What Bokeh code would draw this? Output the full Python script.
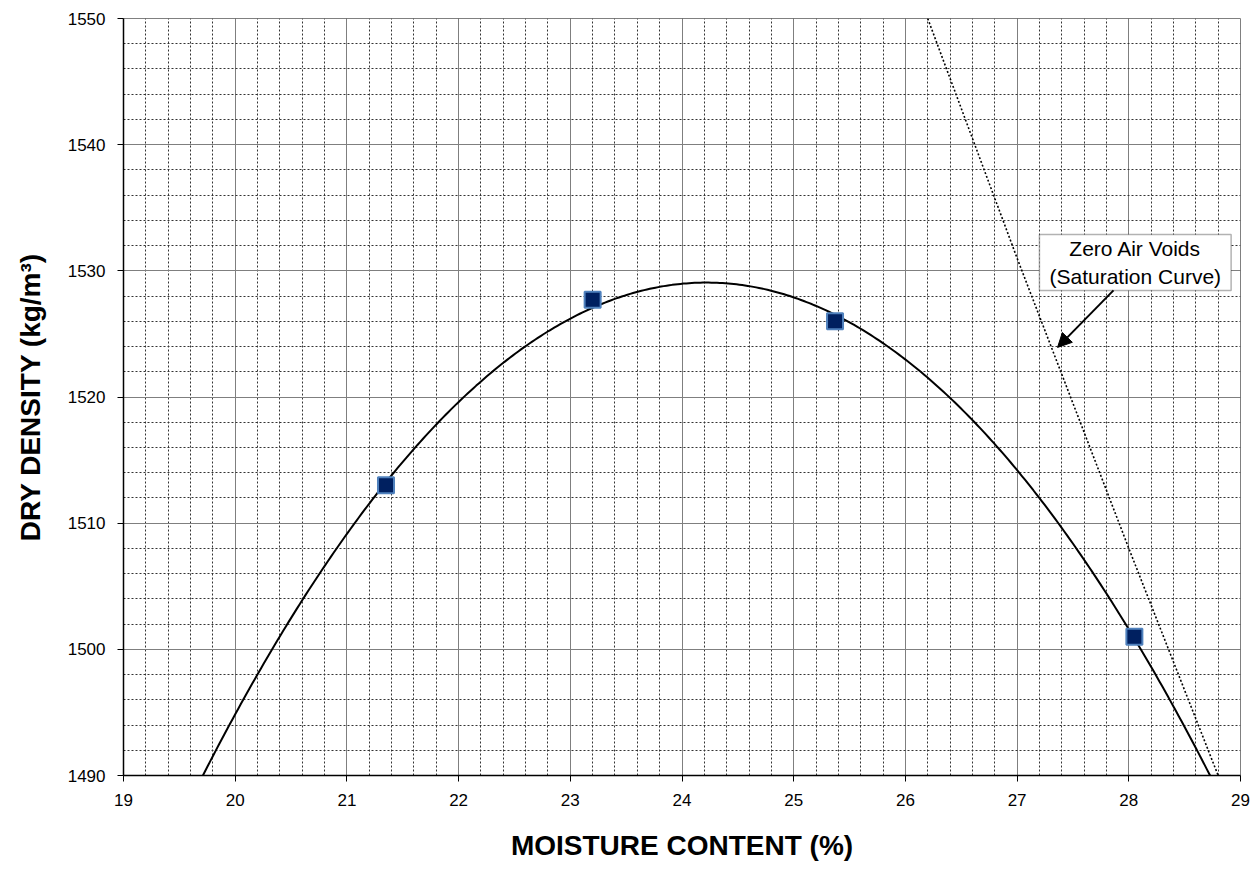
import numpy as np
from bokeh.plotting import figure
from bokeh.models import (Range1d, SingleIntervalTicker, Label, BoxAnnotation,
                          Arrow, NormalHead, ColumnDataSource)
from bokeh.embed import file_html
from bokeh.resources import INLINE

# Compaction test results
moisture = [21.35, 23.2, 25.37, 28.05]
dry_density = [1513.0, 1527.7, 1526.0, 1501.0]

# Zero air voids (saturation) curve
zav_moisture = [26.2, 27.0, 28.0, 28.8]
zav_density = [1550.0, 1531.0, 1508.0, 1490.0]

x_ticks_interval = 1
y_ticks_interval = 10

FONT = "Liberation Sans"

p = figure(width=1250, height=875, x_range=Range1d(19, 29), y_range=Range1d(1490, 1550),
           output_backend="svg", toolbar_location=None,
           min_border_left=123, min_border_right=10, min_border_top=18, min_border_bottom=100)
p.background_fill_color = "white"
p.border_fill_color = "white"
p.outline_line_color = "#808080"
p.outline_line_width = 1

xt = SingleIntervalTicker(interval=x_ticks_interval, num_minor_ticks=5)
yt = SingleIntervalTicker(interval=y_ticks_interval, num_minor_ticks=5)
p.xaxis.ticker = xt
p.yaxis.ticker = yt
p.xgrid.ticker = xt
p.ygrid.ticker = yt

for g in (p.xgrid, p.ygrid):
    g.grid_line_color = "#7f7f7f"
    g.grid_line_width = 1
    g.minor_grid_line_color = "#333333"
    g.minor_grid_line_width = 1
    g.minor_grid_line_dash = "2 2"

for ax in (p.xaxis, p.yaxis):
    ax.axis_line_color = "black"
    ax.axis_line_width = 1.5
    ax.major_tick_line_color = "black"
    ax.major_tick_out = 6
    ax.major_tick_in = 0
    ax.minor_tick_line_color = None
    ax.major_label_text_font = FONT
    ax.major_label_text_font_size = "17px"
    ax.major_label_text_color = "black"
    ax.axis_label_text_font = FONT
    ax.axis_label_text_font_size = "28px"
    ax.axis_label_text_font_style = "bold"
    ax.axis_label_text_color = "black"
    ax.major_label_standoff = 12

p.xaxis.axis_label = "MOISTURE CONTENT (%)"
p.yaxis.axis_label = "DRY DENSITY (kg/m³)"
p.xaxis.axis_label_standoff = 21
p.yaxis.axis_label_standoff = 19

# Polynomial (order 2) trendline through the test results
coef = np.polyfit(moisture, dry_density, 2)
xs = np.linspace(19, 29, 400)
p.line(xs, np.polyval(coef, xs), line_color="black", line_width=2)

# Saturation line
p.line(zav_moisture, zav_density, line_color="black", line_width=1.6, line_dash="2 2")

src = ColumnDataSource(dict(x=moisture, y=dry_density))
p.scatter("x", "y", source=src, marker="square", size=16,
          fill_color="#002060", line_color="#4f81bd", line_width=2)

box = BoxAnnotation(left=27.2, right=28.916, top=1532.88, bottom=1528.45,
                    fill_color="white", fill_alpha=1.0, line_color="black", line_width=1.5)
p.add_layout(box)
lab = Label(x=28.058, y=1530.67, text="Zero Air Voids\n(Saturation Curve)",
            text_align="center", text_baseline="middle", text_font=FONT,
            text_font_size="21px", text_line_height=1.2, text_color="black")
p.add_layout(lab)
arr = Arrow(end=NormalHead(size=14, fill_color="black", line_color="black"),
            x_start=27.863, y_start=1528.45, x_end=27.362, y_end=1523.93,
            line_width=2, line_color="black")
p.add_layout(arr)

open("out.html", "w").write(file_html(p, INLINE))
